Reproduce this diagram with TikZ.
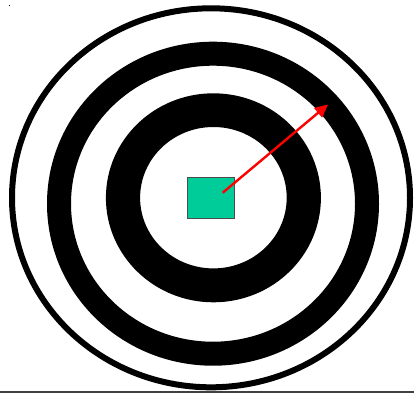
\documentclass[tikz,border=0pt]{standalone}
\usetikzlibrary{arrows.meta}
\begin{document}
\begin{tikzpicture}[x=1pt,y=-1pt,
  band/.style={fill=black,even odd rule},
  target/.style={draw=black!70,fill={rgb,255:red,0;green,204;blue,153},line width=0.8pt,minimum width=47pt,minimum height=41pt,inner sep=0pt},
  shot/.style={draw=red,line width=2.4pt,-{Triangle[length=13pt,width=12pt]}}]
\useasboundingbox (0,0) rectangle (414,394);
% outer thin ring
\draw[line width=6pt] (211,197.8) ellipse [x radius=199, y radius=189.5];
% middle black band
\fill[band] (213,203.7) ellipse [x radius=166, y radius=162]
            (213,203.7) ellipse [x radius=142, y radius=138];
% inner black band
\fill[band] (213.4,197.8) ellipse [x radius=107.5, y radius=104.5]
            (213.4,197.7) ellipse [x radius=73.3, y radius=70.7];
% square
\node[target] (sq) at (211,198.2) {};
% arrow
\coordinate (start) at (222.7,192.7);
\coordinate (tip) at (328,104.5);
\draw[shot] (start) -- (tip);
% bottom line
\coordinate (bl) at (0,391.5);
\coordinate (br) at (414,391.5);
\draw[line width=2pt,black!75] (bl) -- (br);
% tiny speck
\fill (9,5) rectangle (10.2,6.2);
\end{tikzpicture}
\end{document}
